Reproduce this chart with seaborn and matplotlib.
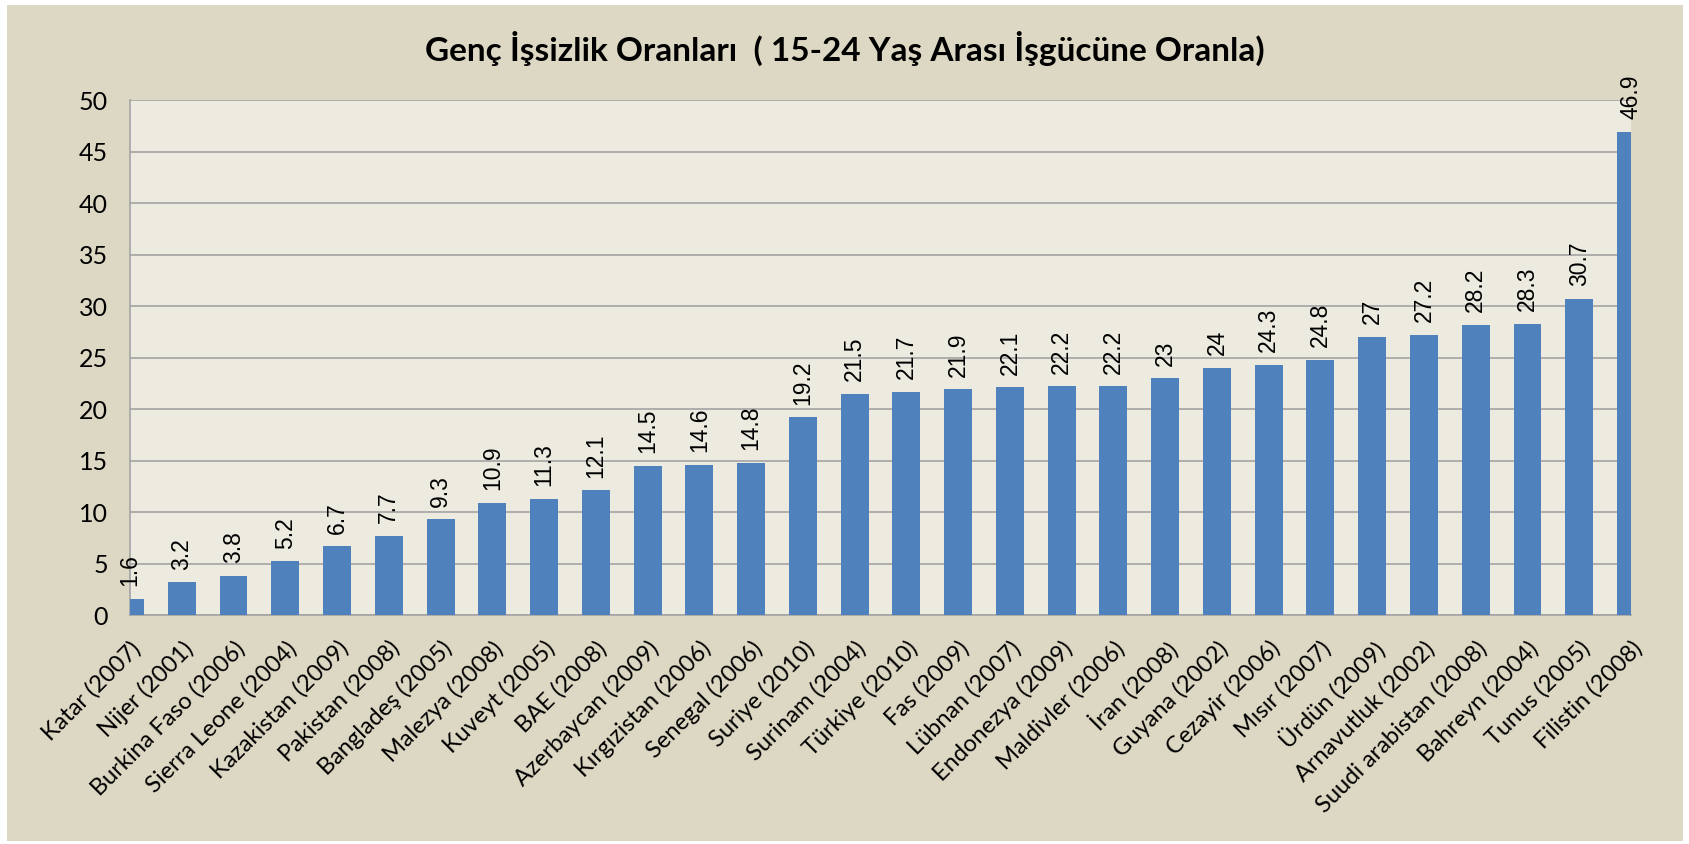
import seaborn as sns
import pandas as pd
import matplotlib.pyplot as plt
from matplotlib.patches import Rectangle

# Ülkeler ve genç işsizlik oranları (15-24 yaş)
ulkeler = ['Katar (2007)', 'Nijer (2001)', 'Burkina Faso (2006)', 'Sierra Leone (2004)',
           'Kazakistan (2009)', 'Pakistan (2008)', 'Bangladeş (2005)', 'Malezya (2008)',
           'Kuveyt (2005)', 'BAE (2008)', 'Azerbaycan (2009)', 'Kırgızistan (2006)',
           'Senegal (2006)', 'Suriye (2010)', 'Surinam (2004)', 'Türkiye (2010)',
           'Fas (2009)', 'Lübnan (2007)', 'Endonezya (2009)', 'Maldivler (2006)',
           'İran (2008)', 'Guyana (2002)', 'Cezayir (2006)', 'Mısır (2007)',
           'Ürdün (2009)', 'Arnavutluk (2002)', 'Suudi arabistan (2008)', 'Bahreyn (2004)',
           'Tunus (2005)', 'Filistin (2008)']
oranlar = [1.6, 3.2, 3.8, 5.2, 6.7, 7.7, 9.3, 10.9, 11.3, 12.1, 14.5, 14.6, 14.8, 19.2,
           21.5, 21.7, 21.9, 22.1, 22.2, 22.2, 23, 24, 24.3, 24.8, 27, 27.2, 28.2, 28.3,
           30.7, 46.9]
y_ticks = list(range(0, 51, 5))

df = pd.DataFrame({'Ulke': ulkeler, 'Oran': oranlar})

bg = '#ddd8c3'
fig = plt.figure(figsize=(16.9, 8.44), dpi=100, facecolor='white')
# bej çerçeve
fig.patches.append(Rectangle((0.004, 0.004), 0.992, 0.99, transform=fig.transFigure,
                             facecolor=bg, edgecolor='none', zorder=-10))
ax = fig.add_axes([0.0769, 0.2713, 0.8882, 0.6102])
ax.set_facecolor('#edebe0')

sns.barplot(data=df, x='Ulke', y='Oran', color='#4f81bd', width=0.54,
            saturation=1, ax=ax, zorder=3)

ax.bar_label(ax.containers[0], labels=[f'{v:g}' for v in oranlar], rotation=90,
             padding=9, fontsize=16.5, family='Liberation Sans', color='black')

ax.set_xlim(0, len(ulkeler) - 1)
ax.set_ylim(0, 50)
ax.set_yticks(y_ticks)
ax.yaxis.grid(True, color='#a4a4a4', linewidth=1.2, zorder=0)
ax.set_axisbelow(True)
for s in ['top', 'right']:
    ax.spines[s].set_visible(False)
for s in ['left', 'bottom']:
    ax.spines[s].set_color('#a4a4a4')
    ax.spines[s].set_linewidth(1.2)
ax.tick_params(axis='both', length=0)
ax.tick_params(axis='y', pad=16, labelsize=18)
ax.set_xlabel('')
ax.set_ylabel('')
for lbl in ax.get_yticklabels():
    lbl.set_family('Lato')

ax.set_xticks(range(len(ulkeler)))
ax.set_xticklabels(ulkeler, rotation=45, ha='right', rotation_mode='anchor',
                   fontsize=17, family='Lato')
ax.tick_params(axis='x', pad=16)

fig.text(0.5, 0.943, 'Genç İşsizlik Oranları  ( 15-24 Yaş Arası İşgücüne Oranla)',
         ha='center', va='center', fontsize=24, fontweight='bold', family='Lato')

fig.savefig('out.png', dpi=100, facecolor=fig.get_facecolor())
